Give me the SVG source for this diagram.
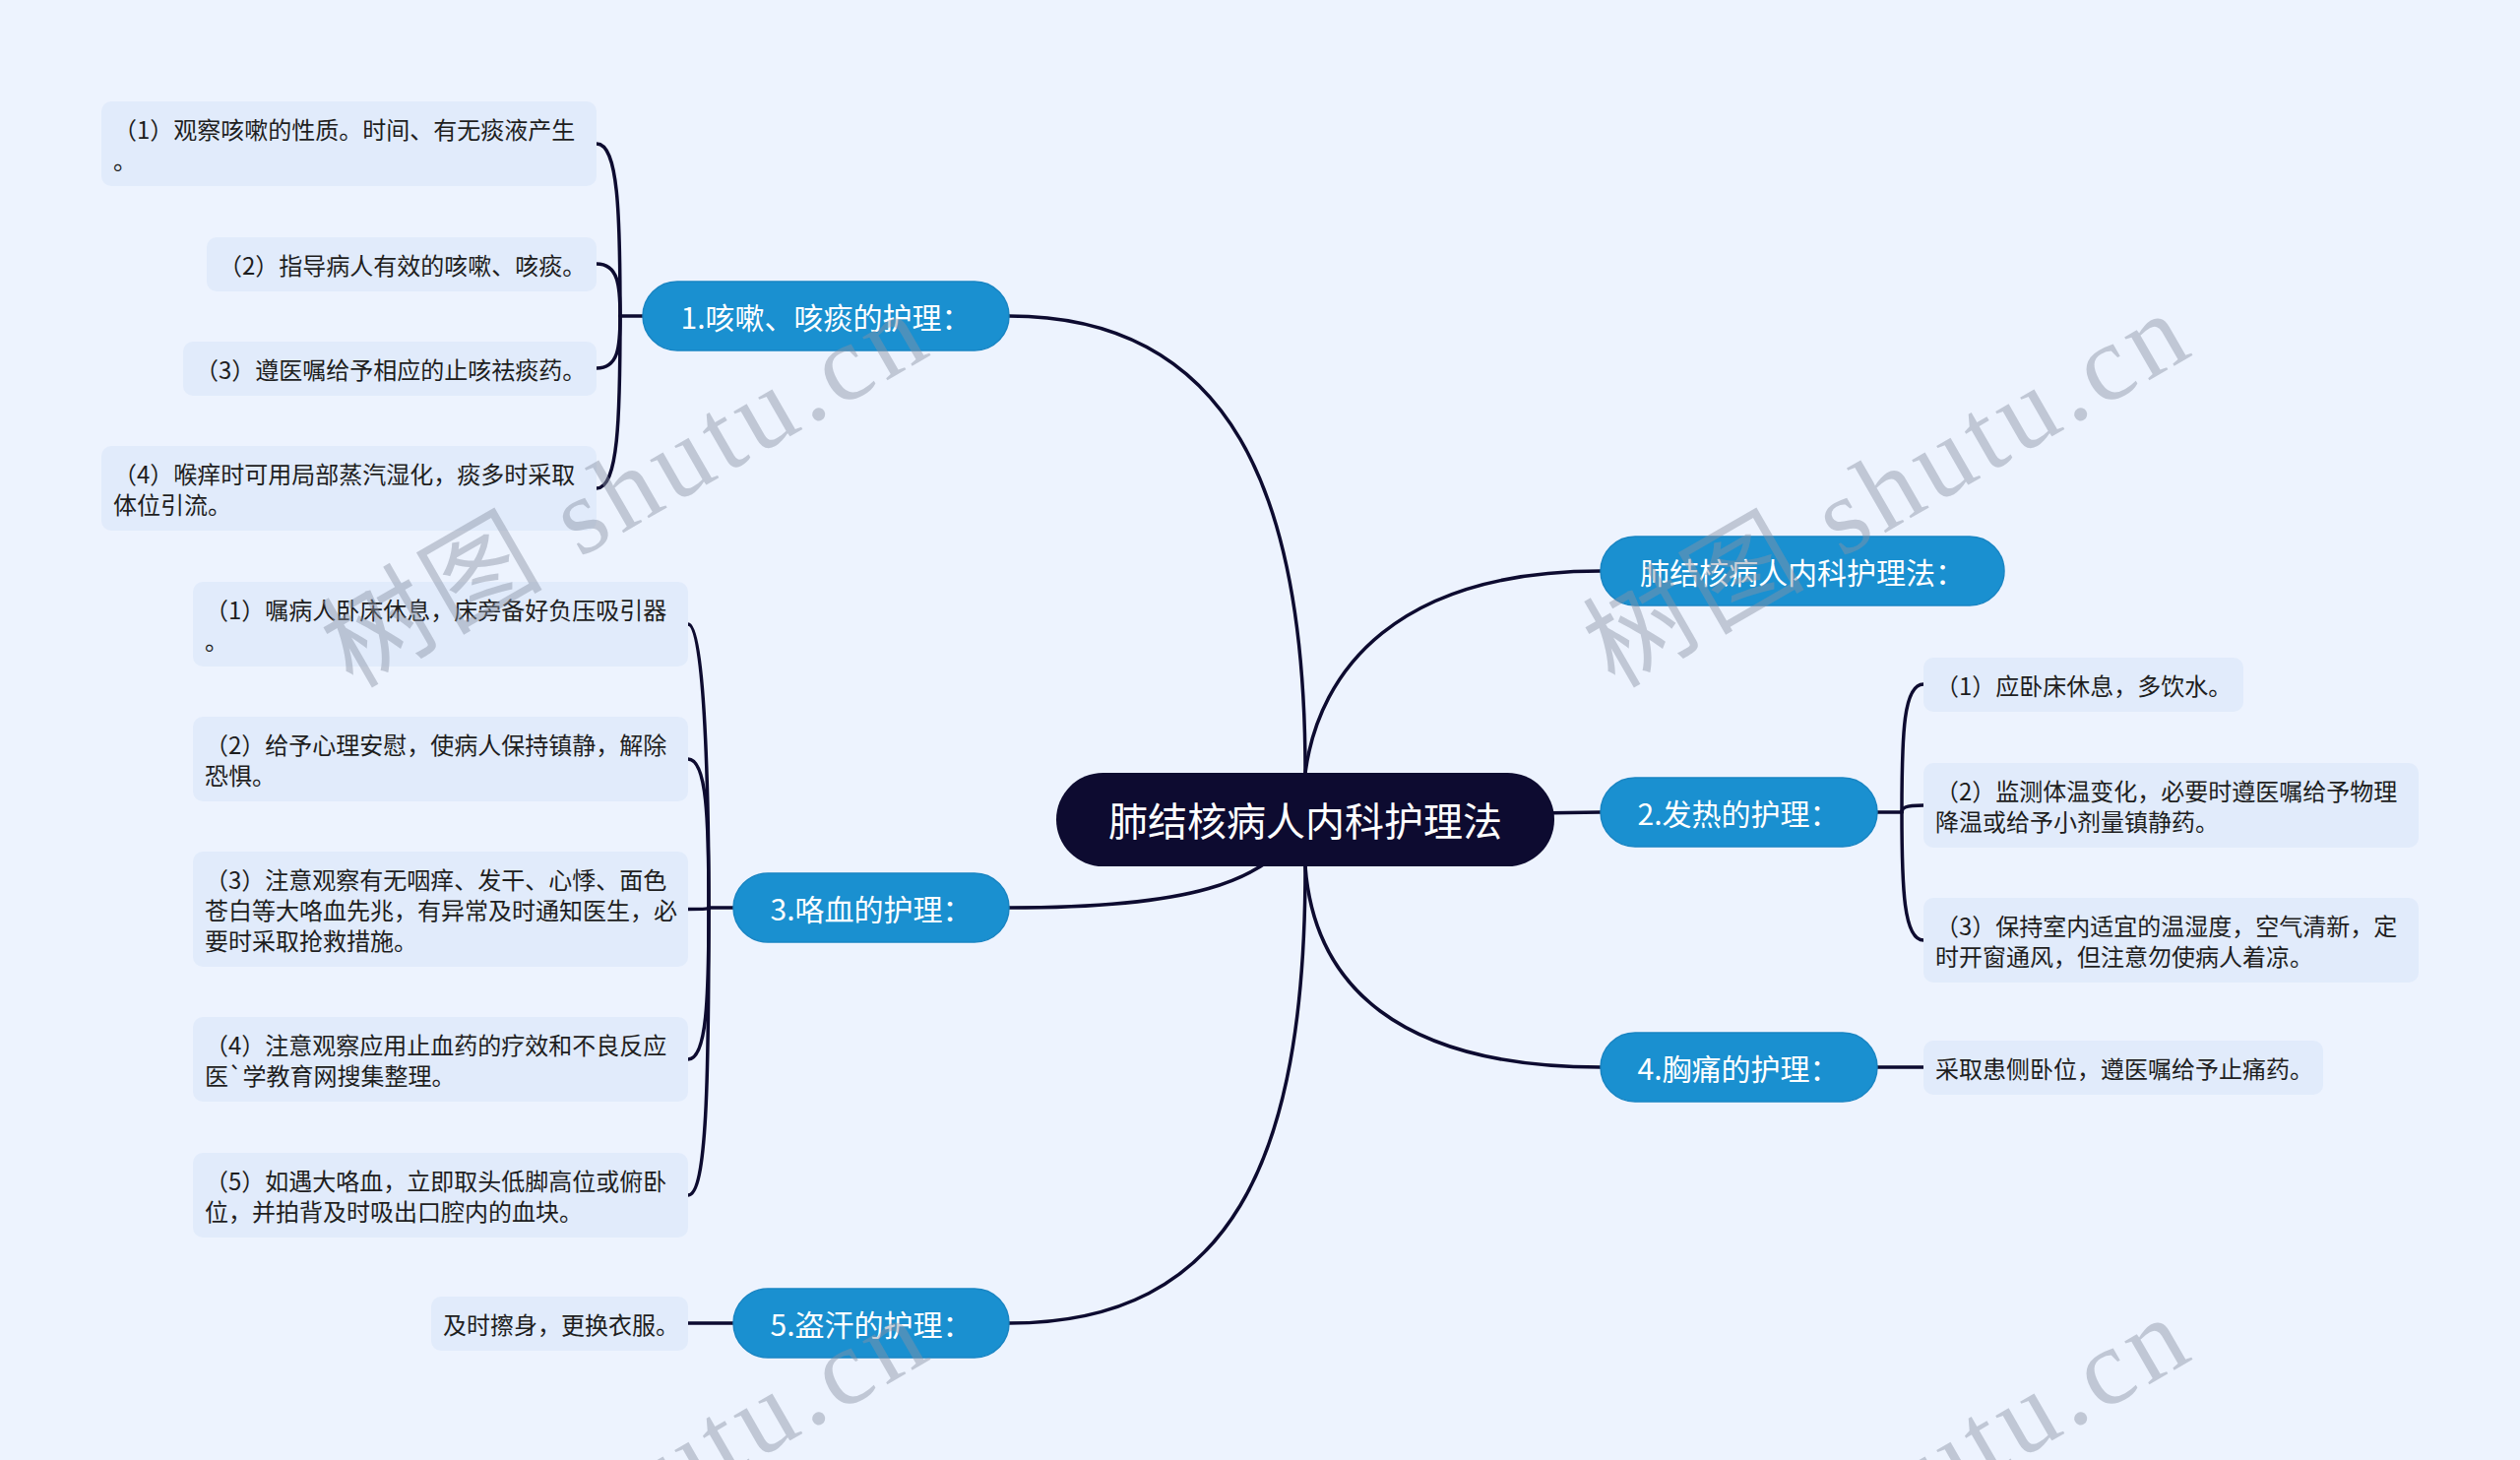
<svg xmlns="http://www.w3.org/2000/svg" width="2560" height="1483" viewBox="0 0 2560 1483">
<style>
.conn{fill:none;stroke:#0d0b30;stroke-width:3.5;stroke-linecap:round}
.leaf{fill:#e1ebfb}
.lt{font-family:"Noto Sans CJK SC","Noto Sans",sans-serif;font-size:24px;fill:#1e1e1e;dominant-baseline:central}
.main{fill:#1a90d0;stroke:#1985c3;stroke-width:1.5}
.mt{font-family:"Noto Sans CJK SC","Noto Sans",sans-serif;font-size:30px;fill:#ffffff;text-anchor:middle;dominant-baseline:central}
.root{fill:#0d0b30}
.rt{font-family:"Noto Sans CJK SC","Noto Sans",sans-serif;font-size:40px;fill:#ffffff;text-anchor:middle;dominant-baseline:central}
.wm{font-family:"Liberation Serif","Noto Sans CJK SC",serif;font-size:110px;fill:#8a93a5;fill-opacity:0.45}
</style>
<rect x="0" y="0" width="2560" height="1483" fill="#edf3fe"/>
<g id="connectors">
<path class="conn" d="M1326,800 L1326,785 C1326,500 1250,321 1025,321"/>
<path class="conn" d="M1326,800 L1326,785 C1340,680 1420,580 1626,580"/>
<path class="conn" d="M1560,826 L1626,825"/>
<path class="conn" d="M1326,832 C1290,900 1200,922 1025,922"/>
<path class="conn" d="M1326,860 L1326,880 C1335,1000 1420,1084 1626,1084"/>
<path class="conn" d="M1326,860 L1326,880 C1326,1180 1250,1344 1025,1344"/>
<path class="conn" d="M653,321 H630"/>
<path class="conn" d="M630,321 C630,216 628,146 606,146"/>
<path class="conn" d="M630,321 C630,290 628,268 606,268"/>
<path class="conn" d="M630,321 C630,353 628,374 606,374"/>
<path class="conn" d="M630,321 C630,426 628,496 606,496"/>
<path class="conn" d="M745,922 H720"/>
<path class="conn" d="M720,922 C720,849 718,634 699,634"/>
<path class="conn" d="M720,922 C720,832 718,771 699,771"/>
<path class="conn" d="M720,922 C720,923 718,923.5 699,923.5"/>
<path class="conn" d="M720,922 C720,1014 718,1076 699,1076"/>
<path class="conn" d="M720,922 C720,1097 718,1214 699,1214"/>
<path class="conn" d="M745,1344 H699"/>
<path class="conn" d="M1907,825 H1932"/>
<path class="conn" d="M1932,825 C1932,743 1934,695 1954,695"/>
<path class="conn" d="M1932,825 C1932,821 1934,818 1954,818"/>
<path class="conn" d="M1932,825 C1932,903 1934,955 1954,955"/>
<path class="conn" d="M1907,1084 H1954"/>
</g>
<g id="root">
<rect class="root" x="1073" y="785" width="506" height="95" rx="47.5"/>
<text class="rt" x="1326" y="832">肺结核病人内科护理法</text>
</g>
<g id="n1">
<rect class="main" x="653" y="286" width="372" height="70" rx="35"/>
<text class="mt" x="839" y="321">1.咳嗽、咳痰的护理：</text>
</g>
<g id="nr1">
<rect class="main" x="1626" y="545" width="410" height="70" rx="35"/>
<text class="mt" x="1831" y="580">肺结核病人内科护理法：</text>
</g>
<g id="n2">
<rect class="main" x="1626" y="790" width="281" height="70" rx="35"/>
<text class="mt" x="1766" y="825">2.发热的护理：</text>
</g>
<g id="n3">
<rect class="main" x="745" y="887" width="280" height="70" rx="35"/>
<text class="mt" x="885" y="922">3.咯血的护理：</text>
</g>
<g id="n4">
<rect class="main" x="1626" y="1049" width="281" height="70" rx="35"/>
<text class="mt" x="1766" y="1084">4.胸痛的护理：</text>
</g>
<g id="n5">
<rect class="main" x="745" y="1309" width="280" height="70" rx="35"/>
<text class="mt" x="885" y="1344">5.盗汗的护理：</text>
</g>
<g id="l1-1">
<rect class="leaf" x="103" y="103" width="503" height="86" rx="10"/>
<text class="lt" x="115" y="130.5">（1）观察咳嗽的性质。时间、有无痰液产生</text>
<text class="lt" x="115" y="161.5">。</text>
</g>
<g id="l1-2">
<rect class="leaf" x="210" y="241" width="396" height="55" rx="10"/>
<text class="lt" x="222" y="268.5">（2）指导病人有效的咳嗽、咳痰。</text>
</g>
<g id="l1-3">
<rect class="leaf" x="186" y="347" width="420" height="55" rx="10"/>
<text class="lt" x="198" y="374.5">（3）遵医嘱给予相应的止咳祛痰药。</text>
</g>
<g id="l1-4">
<rect class="leaf" x="103" y="453" width="503" height="86" rx="10"/>
<text class="lt" x="115" y="480.5">（4）喉痒时可用局部蒸汽湿化，痰多时采取</text>
<text class="lt" x="115" y="511.5">体位引流。</text>
</g>
<g id="l3-1">
<rect class="leaf" x="196" y="591" width="503" height="86" rx="10"/>
<text class="lt" x="208" y="618.5">（1）嘱病人卧床休息，床旁备好负压吸引器</text>
<text class="lt" x="208" y="649.5">。</text>
</g>
<g id="l3-2">
<rect class="leaf" x="196" y="728" width="503" height="86" rx="10"/>
<text class="lt" x="208" y="755.5">（2）给予心理安慰，使病人保持镇静，解除</text>
<text class="lt" x="208" y="786.5">恐惧。</text>
</g>
<g id="l3-3">
<rect class="leaf" x="196" y="865" width="503" height="117" rx="10"/>
<text class="lt" x="208" y="892.5">（3）注意观察有无咽痒、发干、心悸、面色</text>
<text class="lt" x="208" y="923.5">苍白等大咯血先兆，有异常及时通知医生，必</text>
<text class="lt" x="208" y="954.5">要时采取抢救措施。</text>
</g>
<g id="l3-4">
<rect class="leaf" x="196" y="1033" width="503" height="86" rx="10"/>
<text class="lt" x="208" y="1060.5">（4）注意观察应用止血药的疗效和不良反应</text>
<text class="lt" x="208" y="1091.5">医`学教育网搜集整理。</text>
</g>
<g id="l3-5">
<rect class="leaf" x="196" y="1171" width="503" height="86" rx="10"/>
<text class="lt" x="208" y="1198.5">（5）如遇大咯血，立即取头低脚高位或俯卧</text>
<text class="lt" x="208" y="1229.5">位，并拍背及时吸出口腔内的血块。</text>
</g>
<g id="l5-1">
<rect class="leaf" x="438" y="1317" width="261" height="55" rx="10"/>
<text class="lt" x="450" y="1344.5">及时擦身，更换衣服。</text>
</g>
<g id="l2-1">
<rect class="leaf" x="1954" y="668" width="325" height="55" rx="10"/>
<text class="lt" x="1966" y="695.5">（1）应卧床休息，多饮水。</text>
</g>
<g id="l2-2">
<rect class="leaf" x="1954" y="775" width="503" height="86" rx="10"/>
<text class="lt" x="1966" y="802.5">（2）监测体温变化，必要时遵医嘱给予物理</text>
<text class="lt" x="1966" y="833.5">降温或给予小剂量镇静药。</text>
</g>
<g id="l2-3">
<rect class="leaf" x="1954" y="912" width="503" height="86" rx="10"/>
<text class="lt" x="1966" y="939.5">（3）保持室内适宜的温湿度，空气清新，定</text>
<text class="lt" x="1966" y="970.5">时开窗通风，但注意勿使病人着凉。</text>
</g>
<g id="l4-1">
<rect class="leaf" x="1954" y="1057" width="406" height="55" rx="10"/>
<text class="lt" x="1966" y="1084.5">采取患侧卧位，遵医嘱给予止痛药。</text>
</g>
<g id="watermark">
<text class="wm" transform="translate(358,700) rotate(-30)" textLength="680" lengthAdjust="spacing">树图 shutu.cn</text>
<text class="wm" transform="translate(1640,700) rotate(-30)" textLength="680" lengthAdjust="spacing">树图 shutu.cn</text>
<text class="wm" transform="translate(358,1720) rotate(-30)" textLength="680" lengthAdjust="spacing">树图 shutu.cn</text>
<text class="wm" transform="translate(1640,1720) rotate(-30)" textLength="680" lengthAdjust="spacing">树图 shutu.cn</text>
</g>
</svg>
